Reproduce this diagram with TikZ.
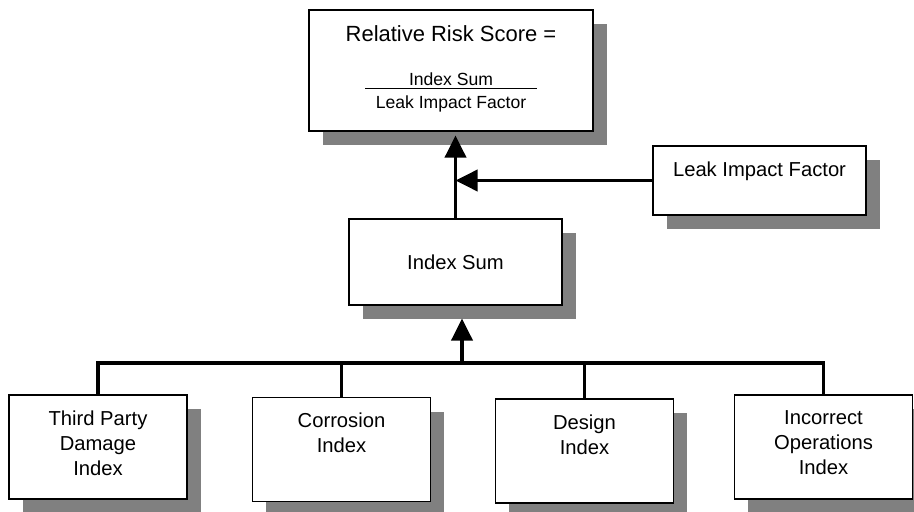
\documentclass[tikz,border=0pt]{standalone}
\usepackage{fontspec}
\setmainfont{Liberation Sans}
\usepackage{tikz}
\usetikzlibrary{positioning,arrows.meta,shadows}
\setlength{\arrayrulewidth}{0.6pt}

\begin{document}
\begin{tikzpicture}[
	ar/.style={->,>={Triangle[length=0.44cm,width=0.42cm]},line width=0.075cm},
	bar/.style={line width=0.075cm},
	mybox/.style={
	  draw,
	  fill=white,
	  line width=0.6pt,
	  drop shadow={shadow xshift=0.27cm,shadow yshift=-0.28cm,fill=black!50,opacity=1}
	  },
	smallbox/.style={mybox,minimum width=3.56cm,minimum height=2.08cm},
	boxtext/.style={
	  anchor=north,
	  inner sep=0pt,
	  align=center,
	  font=\fontsize{11.5}{14.2}\selectfont
	  }
	]
		\useasboundingbox (0,0) rectangle (18.28,-10.22);

		\node[mybox,minimum width=5.68cm,minimum height=2.42cm] (risk) at (9.02,-1.41) {};
		\node[boxtext,font=\fontsize{12.5}{15}\selectfont,below=0.32cm of risk.north] (rrs) {Relative Risk Score =};
		\node[boxtext,font=\fontsize{10}{12}\selectfont,below=1.22cm of risk.north] (frac)
			{\begin{tabular}{c}Index Sum\\[-2pt]\hline\rule{0pt}{11pt}Leak Impact Factor\end{tabular}};

		\node[mybox,minimum width=4.26cm,minimum height=1.38cm] (lif) at (15.19,-3.61) {};
		\node[boxtext,below=0.32cm of lif.north] (liftext) {Leak Impact Factor};

		\node[mybox,minimum width=4.26cm,minimum height=1.72cm,font=\fontsize{11.5}{14.2}\selectfont] (sum) at (9.11,-5.24) {Index Sum};

		\node[smallbox] (tpd) at (1.96,-8.94) {};
		\node[boxtext,below=0.32cm of tpd.north] (tpdtext) {Third Party\\Damage\\Index};
		\node[smallbox] (cor) at (6.83,-8.99) {};
		\node[boxtext,below=0.32cm of cor.north] (cortext) {Corrosion\\Index};
		\node[smallbox] (des) at (11.69,-9.02) {};
		\node[boxtext,below=0.32cm of des.north] (destext) {Design\\Index};
		\node[smallbox] (ops) at (16.47,-8.94) {};
		\node[boxtext,below=0.32cm of ops.north] (opstext) {Incorrect\\Operations\\Index};

		\coordinate (bus) at (9.24,-7.26);

		\draw[ar,shorten >=0.08cm]
			(sum.north) -- (sum.north |- risk.south);
		\draw[ar]
			(lif.west) -- (lif.west -| sum.north);
		\draw[ar,shorten >=0.26cm]
			(bus) -- (bus |- sum.south);
		\draw[bar]
			(tpd.north) |- (bus) -| (ops.north);
		\draw[bar]
			(cor.north) -- (cor.north |- bus);
		\draw[bar]
			(des.north) -- (des.north |- bus);
	\end{tikzpicture}
\end{document}
